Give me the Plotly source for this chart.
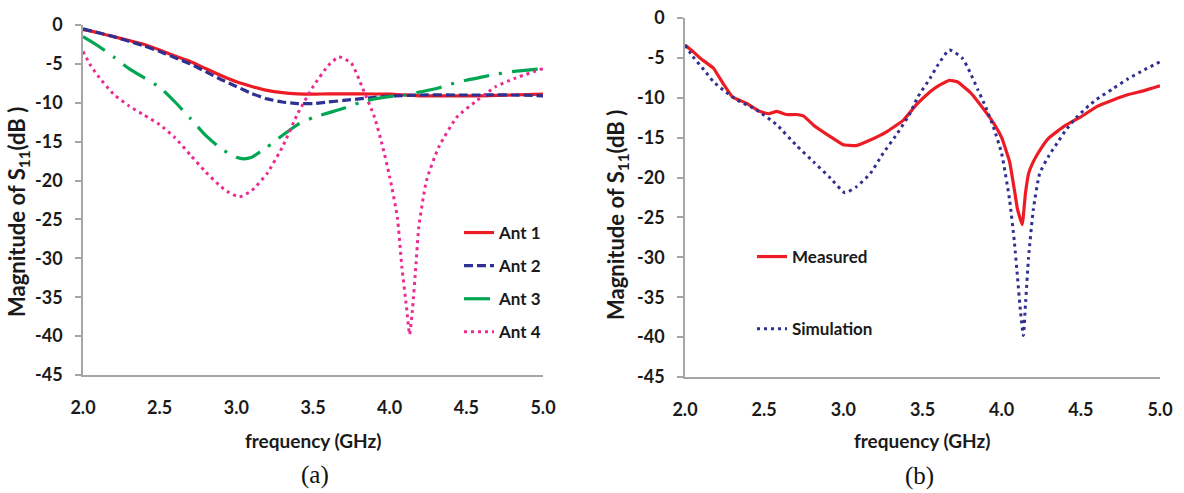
import plotly.graph_objects as go

# ---------------- data: panel (a) ----------------
f_ant1 = [2.0, 2.1, 2.2, 2.3, 2.4, 2.5, 2.6, 2.7, 2.8, 2.9, 3.0, 3.1, 3.2, 3.3, 3.4, 3.5, 3.6, 3.8, 4.0, 4.1, 4.2, 4.4, 4.6, 4.8, 5.0]
s_ant1 = [-0.6, -1.0, -1.5, -2.0, -2.5, -3.2, -4.0, -4.7, -5.6, -6.5, -7.3, -7.9, -8.4, -8.7, -8.85, -8.9, -8.85, -8.85, -8.9, -9.0, -9.1, -9.1, -9.1, -9.0, -8.9]

f_ant2 = [2.0, 2.1, 2.2, 2.3, 2.4, 2.5, 2.6, 2.7, 2.8, 2.9, 3.0, 3.1, 3.2, 3.3, 3.4, 3.5, 3.6, 3.7, 3.8, 3.9, 4.0, 4.2, 4.5, 4.8, 5.0]
s_ant2 = [-0.5, -1.0, -1.5, -2.1, -2.7, -3.4, -4.2, -5.0, -6.0, -7.0, -7.9, -8.8, -9.5, -9.9, -10.1, -10.1, -9.9, -9.7, -9.5, -9.3, -9.15, -9.0, -9.0, -9.0, -9.1]

f_ant3 = [2.0, 2.1, 2.2, 2.3, 2.4, 2.5, 2.6, 2.7, 2.8, 2.9, 3.0, 3.05, 3.1, 3.2, 3.3, 3.4, 3.5, 3.6, 3.7, 3.8, 3.9, 4.0, 4.1, 4.2, 4.3, 4.4, 4.5, 4.6, 4.7, 4.8, 4.9, 5.0]
s_ant3 = [-1.5, -2.7, -4.1, -5.6, -6.8, -8.0, -9.9, -12.0, -14.2, -15.9, -17.0, -17.2, -17.0, -15.7, -14.2, -12.8, -11.9, -11.3, -10.7, -10.0, -9.5, -9.2, -9.0, -8.6, -8.2, -7.6, -7.1, -6.7, -6.3, -6.0, -5.8, -5.6]

f_ant4 = [2.0, 2.05, 2.1, 2.2, 2.3, 2.4, 2.5, 2.6, 2.7, 2.8, 2.9, 2.95, 3.02, 3.1, 3.2, 3.3, 3.4, 3.5, 3.6, 3.67, 3.75, 3.82, 3.9, 3.95, 4.0, 4.05, 4.08, 4.11, 4.13, 4.15, 4.17, 4.19, 4.24, 4.32, 4.44, 4.57, 4.69, 4.81, 5.0]
s_ant4 = [-3.4, -5.2, -6.6, -8.9, -10.4, -11.6, -12.8, -14.5, -16.7, -18.9, -20.8, -21.5, -22.1, -21.3, -19.1, -15.7, -11.4, -7.95, -5.2, -4.1, -4.9, -7.95, -11.8, -15.3, -19.5, -24.7, -31.2, -36.3, -39.8, -36.3, -31.2, -26.0, -20.0, -15.7, -11.8, -9.7, -7.95, -6.9, -5.6]

# ---------------- data: panel (b) ----------------
f_meas = [2.0, 2.05, 2.1, 2.18, 2.24, 2.3, 2.39, 2.47, 2.53, 2.58, 2.64, 2.7, 2.75, 2.81, 2.92, 3.0, 3.08, 3.17, 3.27, 3.38, 3.46, 3.55, 3.6, 3.67, 3.72, 3.8, 3.9, 3.95, 4.0, 4.05, 4.08, 4.1, 4.13, 4.15, 4.17, 4.2, 4.25, 4.3, 4.4, 4.5, 4.6, 4.7, 4.8, 4.9, 5.0]
s_meas = [-3.4, -4.2, -5.1, -6.3, -8.2, -9.9, -10.7, -11.7, -12.0, -11.7, -12.1, -12.1, -12.3, -13.4, -14.9, -15.9, -16.0, -15.3, -14.3, -12.8, -10.9, -9.2, -8.5, -7.8, -8.0, -9.3, -11.8, -13.2, -15.0, -18.0, -21.5, -24.0, -25.9, -22.0, -19.5, -18.0, -16.3, -15.0, -13.5, -12.4, -11.1, -10.3, -9.6, -9.1, -8.5]

f_sim = [2.0, 2.05, 2.12, 2.18, 2.24, 2.33, 2.45, 2.58, 2.7, 2.81, 2.92, 3.01, 3.08, 3.17, 3.25, 3.34, 3.42, 3.47, 3.55, 3.6, 3.67, 3.75, 3.8, 3.85, 3.9, 3.95, 4.0, 4.05, 4.08, 4.1, 4.12, 4.137, 4.15, 4.17, 4.2, 4.24, 4.3, 4.35, 4.4, 4.47, 4.55, 4.6, 4.7, 4.8, 4.9, 5.0]
s_sim = [-3.4, -4.85, -6.5, -8.0, -9.0, -10.3, -11.5, -13.4, -15.9, -18.0, -20.1, -21.9, -21.2, -19.5, -17.0, -14.5, -12.0, -9.9, -7.5, -5.8, -4.0, -5.0, -6.8, -9.0, -11.2, -13.8, -17.0, -22.8, -28.0, -32.5, -37.0, -39.8, -36.0, -30.0, -24.0, -19.5, -17.2, -15.7, -14.2, -12.5, -11.0, -10.2, -8.9, -7.6, -6.5, -5.5]

x_ticks = [2.0, 2.5, 3.0, 3.5, 4.0, 4.5, 5.0]
y_ticks = [0, -5, -10, -15, -20, -25, -30, -35, -40, -45]

RED = "#ED1C24"
NAVY = "#2E3192"
GREEN = "#00A651"
PINK = "#EC2A90"
W, H = 1184, 493
FONT = "Lato"
TXT = "#1a1a1a"
AX = "#A6A6A6"

fig = go.Figure()
fig.add_trace(go.Scatter(x=f_ant1, y=s_ant1, mode="lines", name="Ant 1", line=dict(color=RED, width=3.2, shape="spline", smoothing=0.5), legendgroup="a1", legend="legend"))
fig.add_trace(go.Scatter(x=f_ant2, y=s_ant2, mode="lines", name="Ant 2", line=dict(color=NAVY, width=3.2, dash="9px,4px", shape="spline", smoothing=0.5), legendgroup="a2", legend="legend"))
fig.add_trace(go.Scatter(x=f_ant3, y=s_ant3, mode="lines", name="Ant 3", line=dict(color=GREEN, width=3.2, dash="26px,10px,3px,10px", shape="spline", smoothing=0.5), legendgroup="a3", legend="legend"))
fig.add_trace(go.Scatter(x=f_ant4, y=s_ant4, mode="lines", name="Ant 4", line=dict(color=PINK, width=3, dash="3px,4px", shape="spline", smoothing=0.5), legendgroup="a4", legend="legend"))

fig.add_trace(go.Scatter(x=f_meas, y=s_meas, mode="lines", name="Measured", line=dict(color=RED, width=3.2, shape="spline", smoothing=0.3), xaxis="x2", yaxis="y2", legendgroup="b1", legend="legend2"))
fig.add_trace(go.Scatter(x=f_sim, y=s_sim, mode="lines", name="Simulation", line=dict(color=NAVY, width=3, dash="3px,4px", shape="spline", smoothing=0.5), xaxis="x2", yaxis="y2", legendgroup="b2", legend="legend2"))

tick_font = dict(family=FONT, size=18, color=TXT, weight="bold")
xax = dict(range=[2.0, 5.0], tickvals=x_ticks, ticktext=[f"{v:.1f}" for v in x_ticks], showline=True, linecolor=AX, linewidth=1.5,
           ticks="", showgrid=False, zeroline=False, ticklabelstandoff=16, tickfont=tick_font)
yax = dict(range=[-45, 0], tickvals=y_ticks, ticktext=[str(v) for v in y_ticks], showline=True, linecolor=AX, linewidth=1.5,
           ticks="outside", ticklen=6, tickcolor=AX, tickwidth=1.5, showgrid=False, zeroline=False,
           ticklabelstandoff=9, tickfont=tick_font)

ax_font = dict(family=FONT, size=19, color=TXT, weight="bold")
ytitle_font = dict(family=FONT, size=22, color=TXT, weight="bold")
leg_font = dict(family=FONT, size=17, color=TXT, weight="bold")
cap_font = dict(family="Liberation Serif", size=25, color="#111111")


def ann(text, x, y, font, angle=0):
    return dict(text=text, x=x / W, y=(H - y) / H, xref="paper", yref="paper", showarrow=False,
                xanchor="center", yanchor="middle", textangle=angle, font=font)


fig.update_layout(
    width=W, height=H, margin=dict(l=0, r=0, t=0, b=0, autoexpand=False),
    paper_bgcolor="white", plot_bgcolor="white",
    xaxis=dict(xax, domain=[83 / W, 543 / W], anchor="y"),
    yaxis=dict(yax, domain=[(H - 375) / H, (H - 25) / H], anchor="x"),
    xaxis2=dict(xax, domain=[685 / W, 1160 / W], anchor="y2"),
    yaxis2=dict(yax, domain=[(H - 377) / H, (H - 18) / H], anchor="x2"),
    legend=dict(x=459 / W, y=(H - 215) / H, xanchor="left", yanchor="top", bgcolor="rgba(0,0,0,0)",
                font=leg_font, tracegroupgap=8, itemwidth=30),
    legend2=dict(x=752 / W, y=(H - 239) / H, xanchor="left", yanchor="top", bgcolor="rgba(0,0,0,0)",
                 font=leg_font, tracegroupgap=47, itemwidth=30),
    showlegend=True,
    annotations=[
        ann("frequency (GHz)", 313, 440, ax_font),
        ann("frequency (GHz)", 922, 440, ax_font),
        ann("Magnitude of S<sub>11</sub>(dB )", 18, 212, ytitle_font, -90),
        ann("Magnitude of S<sub>11</sub>(dB )", 617, 215, ytitle_font, -90),
        ann("(a)", 315, 475, cap_font),
        ann("(b)", 920, 476, cap_font),
    ],
)

fig.write_html("out.html")
